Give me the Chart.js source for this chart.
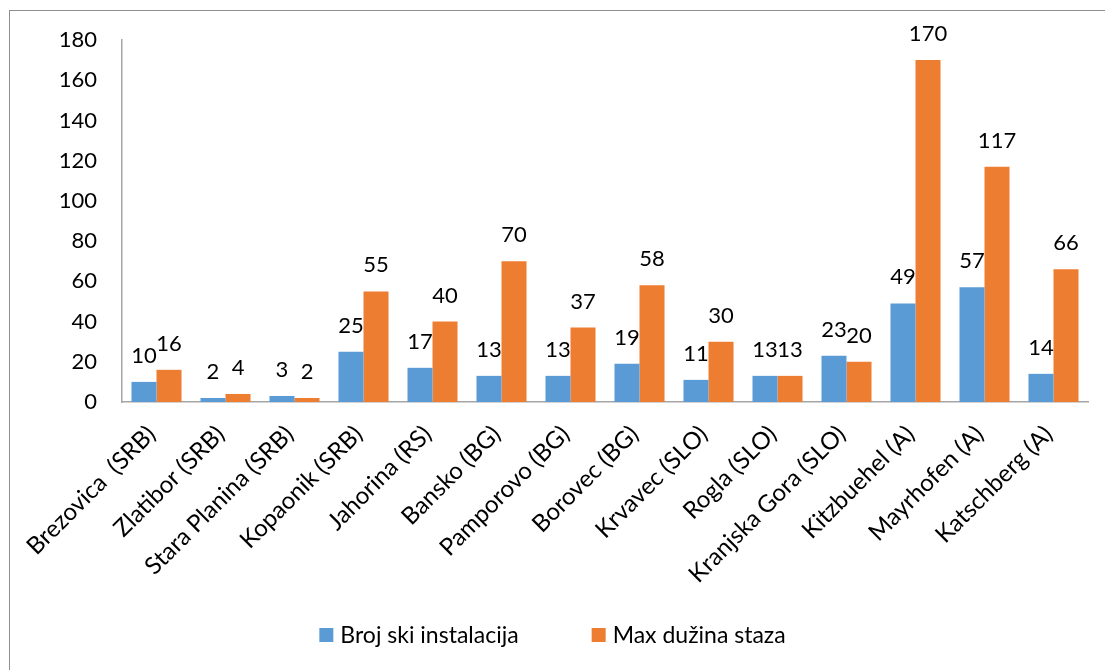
<!DOCTYPE html>
<html>
<head>
<meta charset="utf-8">
<script src="https://cdn.jsdelivr.net/npm/chart.js@4"></script>
<style>
    body { margin: 0; background: #fff; overflow: hidden; }
    #frame {
        position: absolute; left: 9px; top: 10px; width: 1300px; height: 900px;
        border-left: 1px solid #8f8f8f; border-top: 1px solid #8f8f8f;
    }
    #chart { position: absolute; left: 0; top: 0; }
</style>
</head>
<body>
<div id="frame"></div>
<canvas id="chart" width="1105" height="670"></canvas>
<script>
// Ski centres
const resorts = [
    'Brezovica  (SRB)', 'Zlatibor (SRB)', 'Stara Planina (SRB)', 'Kopaonik (SRB)',
    'Jahorina (RS)', 'Bansko (BG)', 'Pamporovo (BG)', 'Borovec (BG)',
    'Krvavec (SLO)', 'Rogla (SLO)', 'Kranjska Gora (SLO)', 'Kitzbuehel (A)',
    'Mayrhofen (A)', 'Katschberg (A)'
];
const skiInstallations = [10, 2, 3, 25, 17, 13, 13, 19, 11, 13, 23, 49, 57, 14];
const maxTrackLength = [16, 4, 2, 55, 40, 70, 37, 58, 30, 13, 20, 170, 117, 66];
const yTicks = [0, 20, 40, 60, 80, 100, 120, 140, 160, 180];

const FONT = 'Lato, "Open Sans", sans-serif';

// Values above the bars
const valueLabels = {
    id: 'valueLabels',
    afterDatasetsDraw(chart) {
        const ctx = chart.ctx;
        ctx.save();
        ctx.font = '22px ' + FONT;
        ctx.fillStyle = '#000';
        ctx.textAlign = 'center';
        ctx.textBaseline = 'alphabetic';
        chart.data.datasets.forEach((ds, i) => {
            chart.getDatasetMeta(i).data.forEach((bar, j) => {
                ctx.fillText(ds.data[j], bar.x, bar.y - 19);
            });
        });
        ctx.restore();
    }
};

// Excel-style legend at the bottom (wider spacing than the built-in one)
const bottomLegend = {
    id: 'bottomLegend',
    afterDraw(chart) {
        const ctx = chart.ctx;
        const box = 14, gap = 7, itemGap = 73;
        const y = chart.height - 35;
        ctx.save();
        ctx.font = '23px ' + FONT;
        ctx.textBaseline = 'middle';
        ctx.textAlign = 'left';
        const items = chart.data.datasets.map(ds => ({
            text: ds.label, color: ds.backgroundColor, w: ctx.measureText(ds.label).width
        }));
        const total = items.reduce((s, it) => s + box + gap + it.w, 0) + itemGap * (items.length - 1);
        let x = chart.width / 2 - total / 2;
        items.forEach(it => {
            ctx.fillStyle = it.color;
            ctx.fillRect(x, y - box / 2, box, box);
            ctx.fillStyle = '#000';
            ctx.fillText(it.text, x + box + gap, y + 1);
            x += box + gap + it.w + itemGap;
        });
        ctx.restore();
    }
};

const ctx = document.getElementById('chart').getContext('2d');
const chart = new Chart(ctx, {
    type: 'bar',
    data: {
        labels: resorts,
        datasets: [
            {
                label: 'Broj ski instalacija',
                data: skiInstallations,
                backgroundColor: '#5B9BD5',
                categoryPercentage: 0.725,
                barPercentage: 1,
            },
            {
                label: 'Max dužina staza',
                data: maxTrackLength,
                backgroundColor: '#ED7D31',
                categoryPercentage: 0.725,
                barPercentage: 1,
            },
        ],
    },
    options: {
        responsive: false,
        animation: false,
        layout: { padding: { left: 22, top: 40, right: 17, bottom: 55 } },
        plugins: {
            legend: { display: false },
            tooltip: { enabled: false },
        },
        scales: {
            x: {
                grid: { display: false, drawTicks: false },
                border: { display: true, color: '#a6a6a6', width: 1.5 },
                ticks: {
                    color: '#000',
                    font: { family: FONT, size: 24 },
                    minRotation: 45,
                    maxRotation: 45,
                    padding: 18,
                    labelOffset: -5,
                },
                afterFit(scale) { scale.height = 213; },
            },
            y: {
                min: 0,
                max: 180,
                afterBuildTicks(scale) { scale.ticks = yTicks.map(v => ({ value: v })); },
                grid: { display: false, drawTicks: false },
                border: { display: true, color: '#a6a6a6', width: 1.5 },
                ticks: {
                    color: '#000',
                    font: { family: FONT, size: 22 },
                    padding: 25,
                },
                afterFit(scale) { scale.width = 100; },
            },
        },
    },
    plugins: [valueLabels, bottomLegend],
});
</script>
</body>
</html>
